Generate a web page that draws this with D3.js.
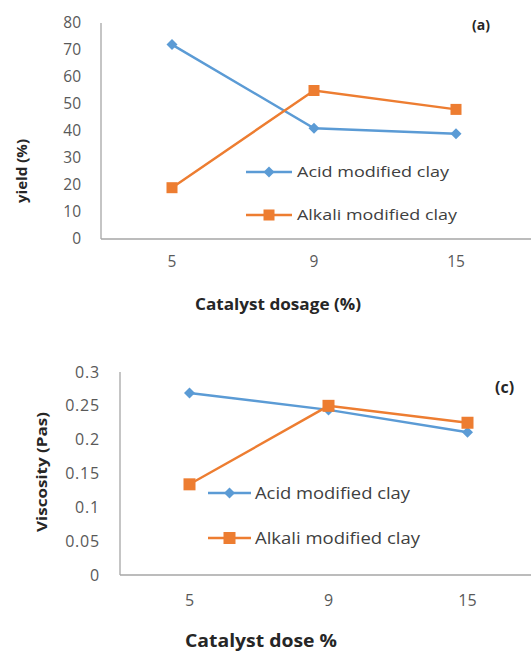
<!DOCTYPE html>
<html><head><meta charset="utf-8">
<script src="https://cdn.jsdelivr.net/npm/d3@7"></script>
<style>body{margin:0;background:#fff}svg{display:block}text{font-family:"Open Sans",sans-serif}</style>
</head><body>
<svg id="c" width="531" height="655"></svg>
<script>
const categories = ["5", "9", "15"];
const yieldAcid = [72, 41, 39];
const yieldAlkali = [19, 55, 48];
const viscAcid = [0.269, 0.244, 0.211];
const viscAlkali = [0.134, 0.25, 0.225];
const yieldTicks = [0, 10, 20, 30, 40, 50, 60, 70, 80];
const viscTicks = [0, 0.05, 0.1, 0.15, 0.2, 0.25, 0.3];
const seriesNames = ["Acid modified clay", "Alkali modified clay"];
const colors = ["#5B9BD5", "#ED7D31"];

const svg = d3.select("#c");
const diamondType = {
  draw(ctx, size) {
    const r = Math.sqrt(size) / 2;
    ctx.moveTo(0, -r); ctx.lineTo(r, 0); ctx.lineTo(0, r); ctx.lineTo(-r, 0); ctx.closePath();
  }
};

function panel(o) {
  const g = svg.append("g");
  const x = d3.scaleBand().domain(categories).range([o.x0, o.x1]);
  const y = d3.scaleLinear().domain([0, o.max]).range([o.yb, o.yt]);
  const cx = d => x(d) + x.bandwidth() / 2;
  g.append("line").attr("x1", o.x0).attr("x2", o.x0).attr("y1", o.yt).attr("y2", o.yb)
    .attr("stroke", "#a6a6a6").attr("stroke-width", 1.3);
  g.append("line").attr("x1", o.x0).attr("x2", 531).attr("y1", o.yb).attr("y2", o.yb)
    .attr("stroke", "#a6a6a6").attr("stroke-width", 1.3);
  g.selectAll(".yt").data(o.ticks).enter().append("text")
    .attr("x", o.tx).attr("y", d => y(d)).attr("dy", "0.35em")
    .attr("text-anchor", "end").attr("font-size", o.tfs).attr("fill", "#595959")
    .attr("letter-spacing", o.tls)
    .text(d => d);
  g.selectAll(".xt").data(categories).enter().append("text")
    .attr("x", d => cx(d)).attr("y", o.xty).attr("dy", "0.35em")
    .attr("text-anchor", "middle").attr("font-size", o.tfs).attr("fill", "#595959")
    .text(d => d);
  const line = d3.line().x((d, i) => cx(categories[i])).y(d => y(d));
  [o.s1, o.s2].forEach((s, k) => {
    g.append("path").datum(s).attr("d", line).attr("fill", "none")
      .attr("stroke", colors[k]).attr("stroke-width", 2.4);
  });
  const dia = d3.symbol().type(diamondType).size(o.ds);
  g.selectAll(".m1").data(o.s1).enter().append("path")
    .attr("transform", (d, i) => `translate(${cx(categories[i])},${y(d)})`)
    .attr("d", dia()).attr("fill", colors[0]);
  g.selectAll(".m2").data(o.s2).enter().append("rect")
    .attr("x", (d, i) => cx(categories[i]) - o.sq / 2)
    .attr("y", d => y(d) - o.sq / 2).attr("width", o.sq).attr("height", o.sq)
    .attr("fill", colors[1]);
  [0, 1].forEach(k => {
    const ly = o.ly[k];
    g.append("line").attr("x1", o.lx0).attr("x2", o.lx1).attr("y1", ly).attr("y2", ly)
      .attr("stroke", colors[k]).attr("stroke-width", 2.4);
    const mx = (o.lx0 + o.lx1) / 2;
    if (k === 0) {
      g.append("path").attr("transform", `translate(${mx},${ly})`).attr("d", dia()).attr("fill", colors[0]);
    } else {
      g.append("rect").attr("x", mx - o.sq / 2).attr("y", ly - o.sq / 2)
        .attr("width", o.sq).attr("height", o.sq).attr("fill", colors[1]);
    }
    g.append("text").attr("x", o.ltx).attr("y", ly).attr("dy", "0.35em")
      .attr("font-size", o.lfs).attr("fill", "#404040")
      .attr("textLength", o.llen[k]).attr("lengthAdjust", "spacingAndGlyphs")
      .text(seriesNames[k]);
  });
  g.append("text").attr("x", o.tagx).attr("y", o.tagy).attr("dy", "0.35em")
    .attr("font-size", o.tagfs).attr("font-weight", "bold").attr("fill", "#262626").text(o.tag);
  g.append("text").attr("x", o.xtx).attr("y", o.xtt).attr("dy", "0.35em").attr("text-anchor", "middle")
    .attr("font-size", o.xfs).attr("font-weight", "bold").attr("fill", "#262626")
    .attr("textLength", o.xlen).attr("lengthAdjust", "spacingAndGlyphs").text(o.xtitle);
  g.append("text").attr("transform", `translate(${o.ytx},${o.yty}) rotate(-90)`).attr("dy", "0.35em")
    .attr("text-anchor", "middle").attr("font-size", o.yfs).attr("font-weight", "bold")
    .attr("fill", "#262626").attr("textLength", o.ylen).attr("lengthAdjust", "spacingAndGlyphs")
    .text(o.ytitle);
}

panel({x0: 101, x1: 527, yt: 23, yb: 239, max: 80, ticks: yieldTicks, tx: 81, tfs: 15.5, tls: 0, xty: 262,
  s1: yieldAcid, s2: yieldAlkali, ds: 121, sq: 11,
  lx0: 246, lx1: 292, ltx: 297, ly: [172, 215], lfs: 15, llen: [152, 160],
  tag: "(a)", tagx: 472, tagy: 25, tagfs: 14,
  xtitle: "Catalyst dosage (%)", xtx: 278, xtt: 304, xfs: 16, xlen: 166,
  ytitle: "yield (%)", ytx: 22, yty: 171, yfs: 15, ylen: 64});

panel({x0: 120, x1: 537, yt: 372, yb: 575, max: 0.3, ticks: viscTicks, tx: 100, tfs: 16, tls: 0.8, xty: 600,
  s1: viscAcid, s2: viscAlkali, ds: 121, sq: 12,
  lx0: 208, lx1: 251, ltx: 255, ly: [493, 538], lfs: 16, llen: [155, 165],
  tag: "(c)", tagx: 495, tagy: 387, tagfs: 16,
  xtitle: "Catalyst dose %", xtx: 261, xtt: 641, xfs: 18, xlen: 152,
  ytitle: "Viscosity (Pas)", ytx: 42, yty: 472, yfs: 15, ylen: 120});
</script>
</body></html>
